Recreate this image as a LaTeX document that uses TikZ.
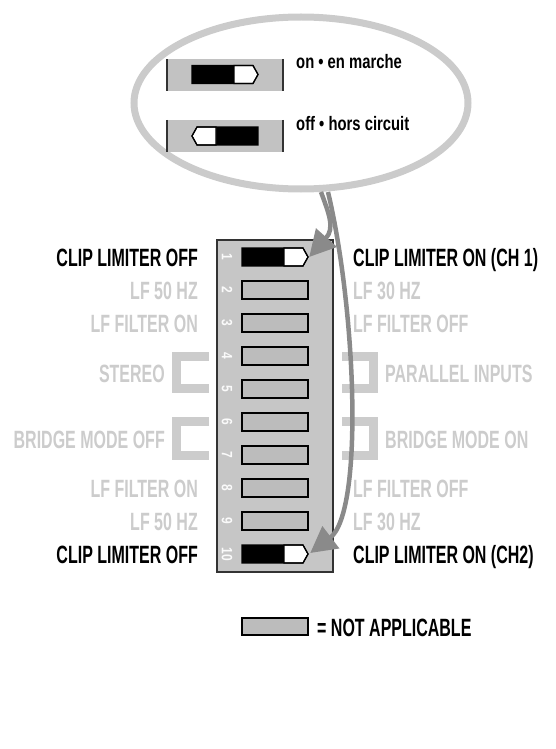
\documentclass[tikz,border=0pt]{standalone}
\usepackage{fontspec}
\usetikzlibrary{shapes.geometric,arrows.meta}
\newfontfamily\dinC[FakeStretch=0.64]{Liberation Sans}
\newfontfamily\dinL[FakeStretch=0.76]{Liberation Sans}
\newfontfamily\dinN[FakeStretch=0.8]{Liberation Sans}
\definecolor{lgray}{HTML}{CCCCCC}
\definecolor{ellgray}{HTML}{CBCBCB}
\definecolor{bodyfill}{HTML}{C6C6C6}
\definecolor{slotfill}{HTML}{BCBCBC}
\definecolor{housing}{HTML}{C2C2C2}
\definecolor{arrgray}{HTML}{8A8A8A}
\definecolor{numwhite}{HTML}{FAFAFA}
\definecolor{edge}{HTML}{333333}
\tikzset{
  lbl/.style={font=\dinC\bfseries\fontsize{25}{25}\selectfont, inner sep=0pt},
  blk/.style={lbl, text=black},
  gry/.style={lbl, text=lgray},
  sml/.style={font=\dinL\bfseries\fontsize{19.5}{19.5}\selectfont, inner sep=0pt, text=black},
  num/.style={font=\dinN\bfseries\fontsize{15}{15}\selectfont, inner sep=0pt, text=numwhite, rotate=-90},
  slot/.style={draw=black, line width=1.2pt, fill=slotfill, minimum width=66pt, minimum height=18pt, inner sep=0pt},
  ghost/.style={draw=none, minimum width=66pt, minimum height=18pt, inner sep=0pt},
  brk/.style={draw=lgray, line width=9pt},
  arr/.style={draw=arrgray, line width=4.5pt, -{Triangle[length=26pt,width=27pt]}},
  onsw/.pic={
    \fill[black] (-33,-9) rectangle (9,9);
    \filldraw[fill=white, draw=black, line width=1.2pt] (9,-9) -- (28,-9) -- (33,0) -- (28,9) -- (9,9) -- cycle;
    \draw[black, line width=1.2pt] (-33,-9) -- (28,-9) -- (33,0) -- (28,9) -- (-33,9) -- cycle;
  },
  housingbox/.pic={
    \fill[housing] (-58,-16) rectangle (58,16);
    \draw[edge, line width=1.3pt] (-58,-16) -- (-58,16) (58,-16) -- (58,16);
  }
}
\begin{document}
\begin{tikzpicture}[x=1pt, y=-1pt]
\useasboundingbox (0,0) rectangle (556,749);

% ---- legend ellipse
\node[ellipse, draw=ellgray, line width=7pt, minimum width=334pt, minimum height=172pt, inner sep=0pt] (ell) at (301,103) {};
\pic at (225,75) {housingbox};
\pic at (225,74.5) {onsw};
\pic at (225,136) {housingbox};
\pic[xscale=-1] at (225,136) {onsw};
\node[sml, anchor=base west] (ontxt) at (296,69) {on • en marche};
\node[sml, anchor=base west] (offtxt) at (296,131) {off • hors circuit};

% ---- DIP body
\node[draw=edge, line width=1.5pt, fill=bodyfill, minimum width=116pt, minimum height=332pt, inner sep=0pt] (body) at (275,406) {};

\foreach \i in {1,...,10} {
  \pgfmathsetmacro{\yy}{257+33*(\i-1)}
  \node[num] (n\i) at (227,\yy) {\i};
}
\foreach \i in {2,...,9} {
  \pgfmathsetmacro{\yy}{257+33*(\i-1)}
  \node[slot] (s\i) at (275,\yy) {};
}
\node[ghost] (s1) at (275,257) {};
\node[ghost] (s10) at (275,554) {};
\pic at (s1) {onsw};
\pic at (s10) {onsw};

% ---- left labels
\node[blk, anchor=base east] (l1) at (198,266) {CLIP LIMITER OFF};
\node[gry, anchor=base east] (l2) at (198,299) {LF 50 HZ};
\node[gry, anchor=base east] (l3) at (198,332) {LF FILTER ON};
\node[gry, anchor=base east] (l45) at (165,382) {STEREO};
\node[gry, anchor=base east] (l67) at (165,448) {BRIDGE MODE OFF};
\node[gry, anchor=base east] (l8) at (198,497) {LF FILTER ON};
\node[gry, anchor=base east] (l9) at (198,530) {LF 50 HZ};
\node[blk, anchor=base east] (l10) at (198,563) {CLIP LIMITER OFF};

% ---- right labels
\node[blk, anchor=base west] (r1) at (353,266) {CLIP LIMITER ON (CH 1)};
\node[gry, anchor=base west] (r2) at (353,299) {LF 30 HZ};
\node[gry, anchor=base west] (r3) at (353,332) {LF FILTER OFF};
\node[gry, anchor=base west] (r45) at (385,382) {PARALLEL INPUTS};
\node[gry, anchor=base west] (r67) at (385,448) {BRIDGE MODE ON};
\node[gry, anchor=base west] (r8) at (353,497) {LF FILTER OFF};
\node[gry, anchor=base west] (r9) at (353,530) {LF 30 HZ};
\node[blk, anchor=base west] (r10) at (353,563) {CLIP LIMITER ON (CH2)};

% ---- brackets
\draw[brk] (209,356.5) -- (176.5,356.5) -- (176.5,388.5) -- (209,388.5);
\draw[brk] (342,356.5) -- (373.5,356.5) -- (373.5,388.5) -- (342,388.5);
\draw[brk] (209,421.5) -- (176.5,421.5) -- (176.5,455.5) -- (209,455.5);
\draw[brk] (342,421.5) -- (373.5,421.5) -- (373.5,455.5) -- (342,455.5);

% ---- legend
\node[slot, minimum height=17pt] (leg) at (275,626.5) {};
\node[blk, anchor=base west] (legtxt) at (317,636) {= NOT APPLICABLE};

% ---- arrows
\coordinate (a1s) at (321,192);
\coordinate (a2s) at (328,192);
\draw[arr] (a1s) .. controls (329,214) and (335,228) .. ([xshift=1pt]s1.east);
\draw[arr] (a2s) .. controls (356,310) and (364,512) .. ([xshift=2pt,yshift=1pt]s10.east);
\end{tikzpicture}
\end{document}
